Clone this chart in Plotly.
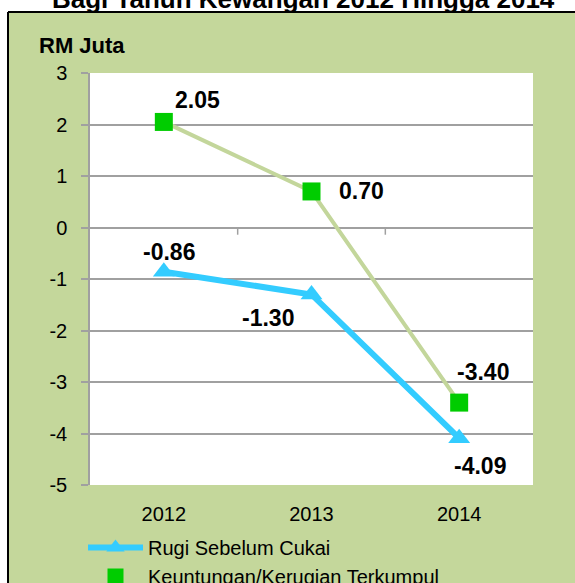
import plotly.graph_objects as go

years = ["2012", "2013", "2014"]
rugi = [-0.86, -1.30, -4.09]
untung = [2.05, 0.70, -3.40]
rugi_labels = ["-0.86", "-1.30", "-4.09"]
untung_labels = ["2.05", "0.70", "-3.40"]
y_ticks = [3, 2, 1, 0, -1, -2, -3, -4, -5]
y_tick_labels = ["3", "2", "1", "0", "-1", "-2", "-3", "-4", "-5"]

title_text = "Bagi Tahun Kewangan 2012 Hingga 2014"
unit_text = "RM Juta"
name_rugi = "Rugi Sebelum Cukai"
name_untung = "Keuntungan/Kerugian Terkumpul"

W, H = 575, 583
ML, MR, MT, MB = 90, 42, 73, 98
PW, PH = W - ML - MR, H - MT - MB
GREEN_BG = "#c4d79b"
GRID = "#a0a0a0"
FONT = "Liberation Sans, Arial, sans-serif"


def px(xp):
    return (xp - ML) / PW


def py(yp):
    return (H - MB - yp) / PH


fig = go.Figure()

fig.add_trace(go.Scatter(
    x=years, y=rugi, name=name_rugi, mode="lines+markers",
    line=dict(color="#33ccff", width=6),
    marker=dict(symbol="triangle-up", size=19, color="#33ccff"),
))
fig.add_trace(go.Scatter(
    x=years, y=untung, name=name_untung, mode="lines",
    line=dict(color="#c3d69b", width=4), showlegend=False,
))
fig.add_trace(go.Scatter(
    x=years, y=untung, name=name_untung, mode="markers",
    marker=dict(symbol="square", size=18, color="#00cc00"),
))

# data labels (offsets in pixels)
rugi_shift = [(5, -20), (-44, 24), (21, 28)]
untung_shift = [(34, -22), (50, 0), (24, -31)]
annotations = []
for ys, labs, shifts in [(rugi, rugi_labels, rugi_shift),
                         (untung, untung_labels, untung_shift)]:
    for i, (yv, lab, (dx, dy)) in enumerate(zip(ys, labs, shifts)):
        annotations.append(dict(
            x=i, y=yv, xref="x", yref="y", text=lab, showarrow=False,
            xshift=dx, yshift=-dy,
            font=dict(family=FONT, size=23, color="black", weight="bold"),
        ))

annotations.append(dict(
    x=px(303), y=py(-1), xref="paper", yref="paper", text=title_text,
    showarrow=False, xanchor="center", yanchor="middle",
    font=dict(family=FONT, size=26, color="black", weight="bold"),
))
annotations.append(dict(
    x=px(37), y=py(46), xref="paper", yref="paper", text=unit_text,
    showarrow=False, xanchor="left", yanchor="middle",
    font=dict(family=FONT, size=22, color="black", weight="bold"),
))

shapes = [
    # white strip above the green panel
    dict(type="rect", xref="paper", yref="paper",
         x0=px(-20), x1=px(W + 20), y0=py(12), y1=py(-20),
         fillcolor="white", line=dict(width=0), layer="below"),
    # white strip left of the green panel
    dict(type="rect", xref="paper", yref="paper",
         x0=px(-20), x1=px(8), y0=py(H + 20), y1=py(-20),
         fillcolor="white", line=dict(width=0), layer="below"),
    # black border (top and left)
    dict(type="line", xref="paper", yref="paper",
         x0=px(8), x1=px(W + 20), y0=py(12), y1=py(12),
         line=dict(color="black", width=2)),
    dict(type="line", xref="paper", yref="paper",
         x0=px(8), x1=px(8), y0=py(12), y1=py(H + 20),
         line=dict(color="black", width=2)),
]
for xb in [0.5, 1.5]:
    shapes.append(dict(type="line", xref="x", yref="y", x0=xb, x1=xb,
                       y0=0, y1=-0.14, line=dict(color=GRID, width=1.5)))

fig.update_layout(
    width=W, height=H,
    margin=dict(l=ML, r=MR, t=MT, b=MB, autoexpand=False),
    paper_bgcolor=GREEN_BG, plot_bgcolor="white",
    font=dict(family=FONT, size=20, color="black"),
    showlegend=True,
    legend=dict(orientation="v", x=px(83), xanchor="left",
                y=py(528), yanchor="top",
                bgcolor="rgba(0,0,0,0)", font=dict(size=20),
                tracegroupgap=0, itemwidth=55),
    annotations=annotations,
    shapes=shapes,
)
fig.update_xaxes(type="category", range=[-0.5, 2.5], showgrid=False,
                 showline=False, zeroline=False, ticks="",
                 ticklabelstandoff=15, tickfont=dict(size=20),
                 automargin=False)
fig.update_yaxes(range=[-5, 3], tickvals=y_ticks, ticktext=y_tick_labels,
                 showgrid=True,
                 gridcolor=GRID, gridwidth=1.5, zeroline=False,
                 showline=True, linecolor=GRID, linewidth=1.5,
                 ticks="outside", ticklen=7, tickcolor=GRID, tickwidth=1.5,
                 ticklabelstandoff=10, tickfont=dict(size=20),
                 automargin=False)

fig.write_html("out.html")
